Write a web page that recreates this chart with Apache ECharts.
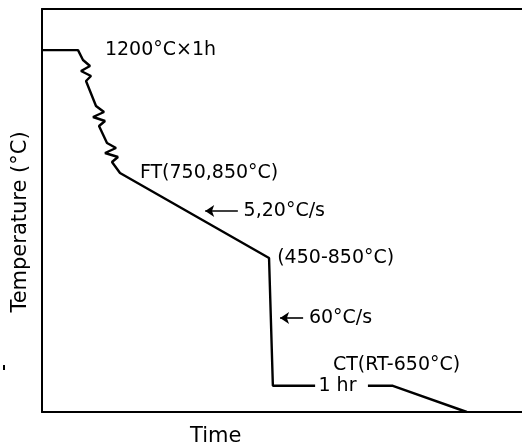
<!DOCTYPE html>
<html>
<head>
<meta charset="utf-8">
<script src="https://cdn.jsdelivr.net/npm/echarts@6/dist/echarts.min.js"></script>
<style>
  html, body { margin: 0; padding: 0; background: #fff; }
  #chart { width: 522px; height: 446px; }
</style>
</head>
<body>
<div id="chart"></div>
<script>
// schematic heat treatment path (time / temperature in arbitrary units, 0..100)
const pathTime = [0, 7.5, 8.54, 10.0, 8.13, 10.21, 9.17, 11.25, 12.92, 10.63, 13.13, 11.88, 13.54, 15.42, 13.13, 15.83, 14.58, 16.25, 47.3, 48.1, 56.9, null, 67.9, 73.1, 88.5]
const pathTemp = [89.8, 89.8, 87.34, 85.86, 84.62, 83.37, 82.13, 75.93, 74.44, 73.2, 72.21, 70.97, 66.75, 65.51, 64.27, 63.28, 62.03, 59.31, 38.2, 6.5, 6.5, null, 6.5, 6.5, 0]

// annotations, anchored at their left edge
const noteText = ["1200°C×1h", "FT(750,850°C)", "5,20°C/s", "(450-850°C)", "60°C/s", "CT(RT-650°C)", "1 hr"]
const noteTime = [13.1, 20.4, 42.0, 49.0, 55.6, 60.6, 57.6]
const noteTemp = [89.8, 59.3, 49.9, 38.2, 23.3, 11.7, 6.5]

// arrows: [fromTime, fromTemp, toTime, toTemp]
const arrows = [
  [40.8, 49.9, 34.0, 49.9],
  [54.4, 23.3, 49.6, 23.3],
]

const chart = echarts.init(document.getElementById("chart"))

const font = "DejaVu Sans"

const pathData = pathTime.map((t, i) => (t === null ? [null, null] : [t, pathTemp[i]]))
const noteData = noteText.map((s, i) => [noteTime[i], noteTemp[i], s])

chart.setOption({
  animation: false,
  backgroundColor: "#fff",
  grid: { left: 42, right: 0, top: 9, bottom: 34 },
  xAxis: [
    {
      type: "value", min: 0, max: 100,
      axisLine: { show: true, lineStyle: { color: "#000", width: 2 } },
      axisTick: { show: false }, axisLabel: { show: false }, splitLine: { show: false },
    },
    {
      type: "value", min: 0, max: 100, position: "top",
      axisLine: { show: true, lineStyle: { color: "#000", width: 2 } },
      axisTick: { show: false }, axisLabel: { show: false }, splitLine: { show: false },
    },
  ],
  yAxis: {
    type: "value", min: 0, max: 100,
    axisLine: { show: true, lineStyle: { color: "#000", width: 2 } },
    axisTick: { show: false }, axisLabel: { show: false }, splitLine: { show: false },
  },
  graphic: [
    {
      type: "text", left: 190, top: 426,
      style: { text: "Time", font: "21px '" + font + "'", fill: "#000" },
    },
    {
      type: "text", x: 21, y: 222, rotation: Math.PI / 2,
      style: { text: "Temperature (°C)", font: "21px '" + font + "'", fill: "#000", align: "center", verticalAlign: "middle" },
    },
    { type: "rect", shape: { x: 3, y: 365, width: 2, height: 5 }, style: { fill: "#000" } },
  ],
  series: [
    {
      type: "line",
      data: pathData,
      symbol: "none",
      connectNulls: false,
      lineStyle: { color: "#000", width: 2.4 },
      markLine: {
        silent: true,
        symbol: ["none", "arrow"],
        symbolSize: 9,
        label: { show: false },
        emphasis: { disabled: true },
        itemStyle: { color: "#000", opacity: 1 },
        lineStyle: { color: "#000", width: 1.6, type: "solid", opacity: 1 },
        data: arrows.map(a => [
          { coord: [a[0], a[1]], symbol: "none" },
          { coord: [a[2], a[3]], symbol: "arrow", symbolSize: 9 },
        ]),
      },
    },
    {
      type: "scatter",
      data: noteData,
      symbolSize: 0,
      itemStyle: { opacity: 1 },
      label: {
        show: true,
        position: "right",
        distance: 0,
        formatter: p => p.value[2],
        color: "#000",
        opacity: 1,
        fontFamily: font,
        fontSize: 19,
      },
    },
  ],
})
</script>
</body>
</html>
